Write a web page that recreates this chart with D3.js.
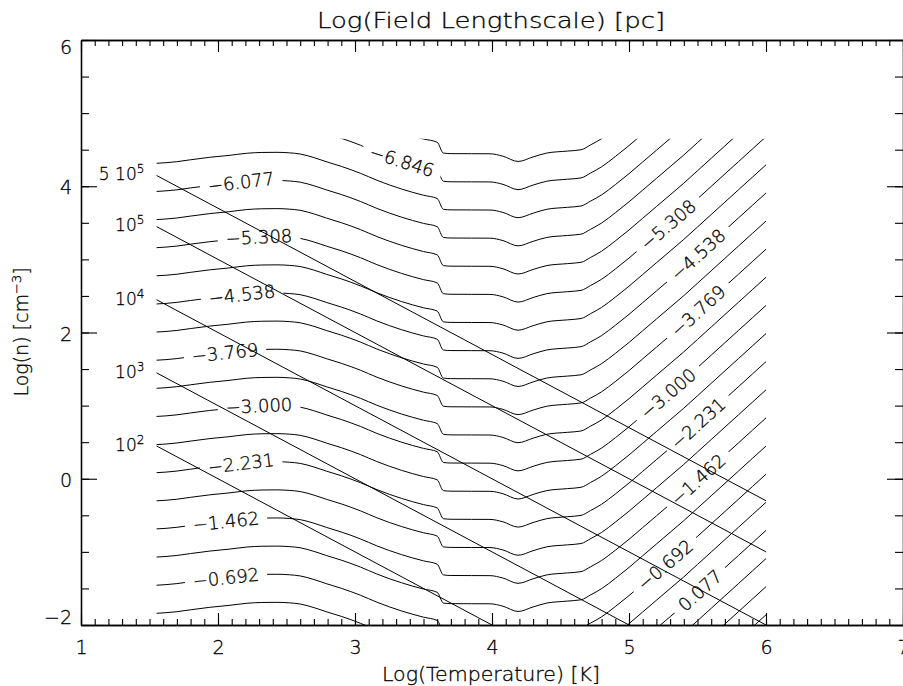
<!DOCTYPE html>
<html>
<head>
<meta charset="utf-8">
<script src="https://cdn.jsdelivr.net/npm/d3@7"></script>
<style>
  body { margin: 0; background: #fff; }
  text { font-family: "DejaVu Sans", sans-serif; font-weight: 200; fill: #000; stroke: #000; stroke-width: 0.3; }
</style>
</head>
<body>
<svg id="chart" width="903" height="686"></svg>
<script>
// Temperature grid (log T) and the log-density track of one isoline of
// log(field length); every isoline is this track shifted by its level.
const logT = [1.55, 1.62, 1.70, 1.80, 1.94, 2.08, 2.21, 2.32, 2.43, 2.52, 2.60, 2.70,
  2.79, 2.90, 3.04, 3.16, 3.34, 3.50, 3.60, 3.645, 3.70, 3.85, 3.985, 4.08, 4.19,
  4.30, 4.40, 4.55, 4.65, 4.72, 4.80, 4.90, 5.00, 5.10, 5.20, 5.30, 5.40, 5.50,
  5.60, 5.70, 5.80, 5.90, 6.00];
const profile = [-2.148, -2.140, -2.126, -2.100, -2.066, -2.040, -2.011, -2.000, -1.998,
  -2.005, -2.021, -2.070, -2.126, -2.190, -2.285, -2.380, -2.500, -2.585, -2.630,
  -2.777, -2.785, -2.786, -2.787, -2.820, -2.892, -2.830, -2.777, -2.750, -2.732,
  -2.665, -2.580, -2.440, -2.290, -2.130, -1.970, -1.810, -1.650, -1.480, -1.310,
  -1.140, -0.970, -0.800, -0.630];

// Contour levels of log(field length) [pc]
const levels = [-7.231, -6.846, -6.462, -6.077, -5.692, -5.308, -4.923, -4.538, -4.154,
  -3.769, -3.385, -3.000, -2.615, -2.231, -1.846, -1.462, -1.077, -0.692, -0.308,
  0.077, 0.462, 0.846, 1.231];

// Labelled levels and the log T where each label sits (null = no label there)
const labelLevels = [-6.846, -6.077, -5.308, -4.538, -3.769, -3.000, -2.231, -1.462, -0.692, 0.077];
const labelLeftT  = [3.343, 2.168, 2.299, 2.175, 2.051, 2.299, 2.168, 2.058, 2.058, null];
const labelRightT = [null, null, 5.285, 5.504, 5.504, 5.285, 5.504, 5.504, 5.263, 5.518];

// Isobars n T = P
const isobarLogP = [2, 3, 4, 5, 5.699];
const isobarPrefix = ["", "", "", "", "5 "];
const isobarExp = ["2", "3", "4", "5", "5"];

// Extent of the computed grid
const tMin = 1.55, tMax = 6.0, nMin = -2.0, nMax = 4.65;

// Axis ticks
const xMajor = [1, 2, 3, 4, 5, 6, 7];
const yMajor = [-2, 0, 2, 4, 6];

const W = 903, H = 686;
const svg = d3.select("#chart");
const x = d3.scaleLinear().domain([1, 7]).range([81, 903]);
const y = d3.scaleLinear().domain([-2, 6]).range([625, 40]);

svg.append("rect").attr("width", W).attr("height", H).attr("fill", "#fff");

const defs = svg.append("defs");
defs.append("clipPath").attr("id", "grid")
  .append("rect")
  .attr("x", x(tMin)).attr("y", y(nMax))
  .attr("width", x(tMax) - x(tMin)).attr("height", y(nMin) - y(nMax));

const mask = defs.append("mask").attr("id", "gaps")
  .attr("maskUnits", "userSpaceOnUse")
  .attr("x", 0).attr("y", 0).attr("width", W).attr("height", H);
mask.append("rect").attr("width", W).attr("height", H).attr("fill", "#fff");

function profileAt(t) {
  const i = Math.max(1, Math.min(logT.length - 1, d3.bisectRight(logT, t)));
  const t0 = logT[i - 1], t1 = logT[i];
  const u = (t - t0) / (t1 - t0);
  return profile[i - 1] + u * (profile[i] - profile[i - 1]);
}

// Isolines
const line = d3.line()
  .x(d => x(d[0]))
  .y(d => y(d[1]))
  .curve(d3.curveMonotoneX);

const contourG = svg.append("g")
  .attr("clip-path", "url(#grid)")
  .append("g")
  .attr("mask", "url(#gaps)");

contourG.selectAll("path")
  .data(levels)
  .join("path")
  .attr("d", L => line(logT.map((t, i) => [t, profile[i] - L])))
  .attr("fill", "none")
  .attr("stroke", "#000")
  .attr("stroke-width", 1);

// Contour labels
const fmt = d3.format(".3f");
const labelG = svg.append("g");
const labelSpots = [];
labelLevels.forEach((L, k) => {
  [labelLeftT[k], labelRightT[k]].forEach(t => {
    if (t == null) return;
    const px = x(t), py = y(profileAt(t) - L);
    const ax = x(t - 0.04), ay = y(profileAt(t - 0.04) - L);
    const bx = x(t + 0.04), by = y(profileAt(t + 0.04) - L);
    const ang = Math.atan2(by - ay, bx - ax) * 180 / Math.PI;
    labelSpots.push({ L, px, py, ang });
  });
});

labelSpots.forEach(s => {
  const t = labelG.append("text")
    .attr("transform", `translate(${s.px},${s.py}) rotate(${s.ang})`)
    .attr("text-anchor", "middle")
    .attr("dy", "0.36em")
    .attr("font-size", 18)
    .text(fmt(s.L));
  const w = t.node().getComputedTextLength() + 16;
  mask.append("rect")
    .attr("x", -w / 2).attr("y", -9)
    .attr("width", w).attr("height", 18)
    .attr("fill", "#000")
    .attr("transform", `translate(${s.px},${s.py}) rotate(${s.ang})`);
});

// Isobars
const isoG = svg.append("g").attr("clip-path", "url(#grid)");
isoG.selectAll("path")
  .data(isobarLogP)
  .join("path")
  .attr("d", p => line([[tMin, p - tMin], [tMax, p - tMax]]))
  .attr("fill", "none")
  .attr("stroke", "#000")
  .attr("stroke-width", 1);

isobarLogP.forEach((p, i) => {
  const t = svg.append("text")
    .attr("x", x(tMin) - 12)
    .attr("y", y(p - tMin) + 5)
    .attr("text-anchor", "end")
    .attr("font-size", 17);
  t.append("tspan").text(isobarPrefix[i] + "10");
  t.append("tspan").attr("dy", -7).attr("font-size", 12).text(isobarExp[i]);
});

// Axes
const axisG = svg.append("g");
function styleAxis(g) {
  g.selectAll("path.domain").attr("stroke", "#000").attr("stroke-width", 1.3);
  g.selectAll(".tick line").attr("stroke", "#000").attr("stroke-width", 1.1);
  g.selectAll(".tick text").attr("fill", "#000")
    .attr("font-family", "DejaVu Sans, sans-serif").attr("font-weight", 200);
}
const xMinor = d3.range(10, 71).map(v => v / 10);
const yMinor = d3.range(-4, 13).map(v => v / 2);

// bottom
axisG.append("g").attr("transform", "translate(0,625)")
  .call(d3.axisBottom(x).tickValues(xMinor).tickSize(-6).tickSizeOuter(0).tickFormat(""))
  .call(styleAxis);
axisG.append("g").attr("transform", "translate(0,625)")
  .call(d3.axisBottom(x).tickValues(xMajor).tickSize(-12).tickSizeOuter(0).tickPadding(16).tickFormat(d3.format("d")))
  .call(styleAxis)
  .call(g => g.selectAll(".tick text").attr("font-size", 19));
// top
axisG.append("g").attr("transform", "translate(0,40)")
  .call(d3.axisTop(x).tickValues(xMinor).tickSize(-6).tickSizeOuter(0).tickFormat(""))
  .call(styleAxis);
axisG.append("g").attr("transform", "translate(0,40)")
  .call(d3.axisTop(x).tickValues(xMajor).tickSize(-12).tickSizeOuter(0).tickFormat(""))
  .call(styleAxis);
// left
axisG.append("g").attr("transform", "translate(81,0)")
  .call(d3.axisLeft(y).tickValues(yMinor).tickSize(-8).tickSizeOuter(0).tickFormat(""))
  .call(styleAxis);
axisG.append("g").attr("transform", "translate(81,0)")
  .call(d3.axisLeft(y).tickValues(yMajor).tickSize(-16).tickSizeOuter(0).tickPadding(9).tickFormat(d3.format("d")))
  .call(styleAxis)
  .call(g => g.selectAll(".tick text").attr("font-size", 19)
    .attr("dy", d => d === 6 ? "0.72em" : d === -2 ? "-0.1em" : "0.4em"));
// right
axisG.append("g").attr("transform", "translate(903,0)")
  .call(d3.axisRight(y).tickValues(yMinor).tickSize(-8).tickSizeOuter(0).tickFormat(""))
  .call(styleAxis);
axisG.append("g").attr("transform", "translate(903,0)")
  .call(d3.axisRight(y).tickValues(yMajor).tickSize(-16).tickSizeOuter(0).tickFormat(""))
  .call(styleAxis);

// Titles
svg.append("text")
  .attr("x", 491).attr("y", 28)
  .attr("text-anchor", "middle")
  .attr("font-size", 22)
  .attr("textLength", 348)
  .attr("lengthAdjust", "spacingAndGlyphs")
  .text("Log(Field Lengthscale) [pc]");

svg.append("text")
  .attr("x", 491).attr("y", 681)
  .attr("text-anchor", "middle")
  .attr("font-size", 19)
  .attr("textLength", 218)
  .attr("lengthAdjust", "spacingAndGlyphs")
  .text("Log(Temperature) [K]");

const yt = svg.append("text")
  .attr("transform", "translate(28,332) rotate(-90)")
  .attr("text-anchor", "middle")
  .attr("font-size", 19);
yt.append("tspan").text("Log(n) [cm");
yt.append("tspan").attr("dy", -7).attr("font-size", 13).text("−3");
yt.append("tspan").attr("dy", 7).text("]");
</script>
</body>
</html>
